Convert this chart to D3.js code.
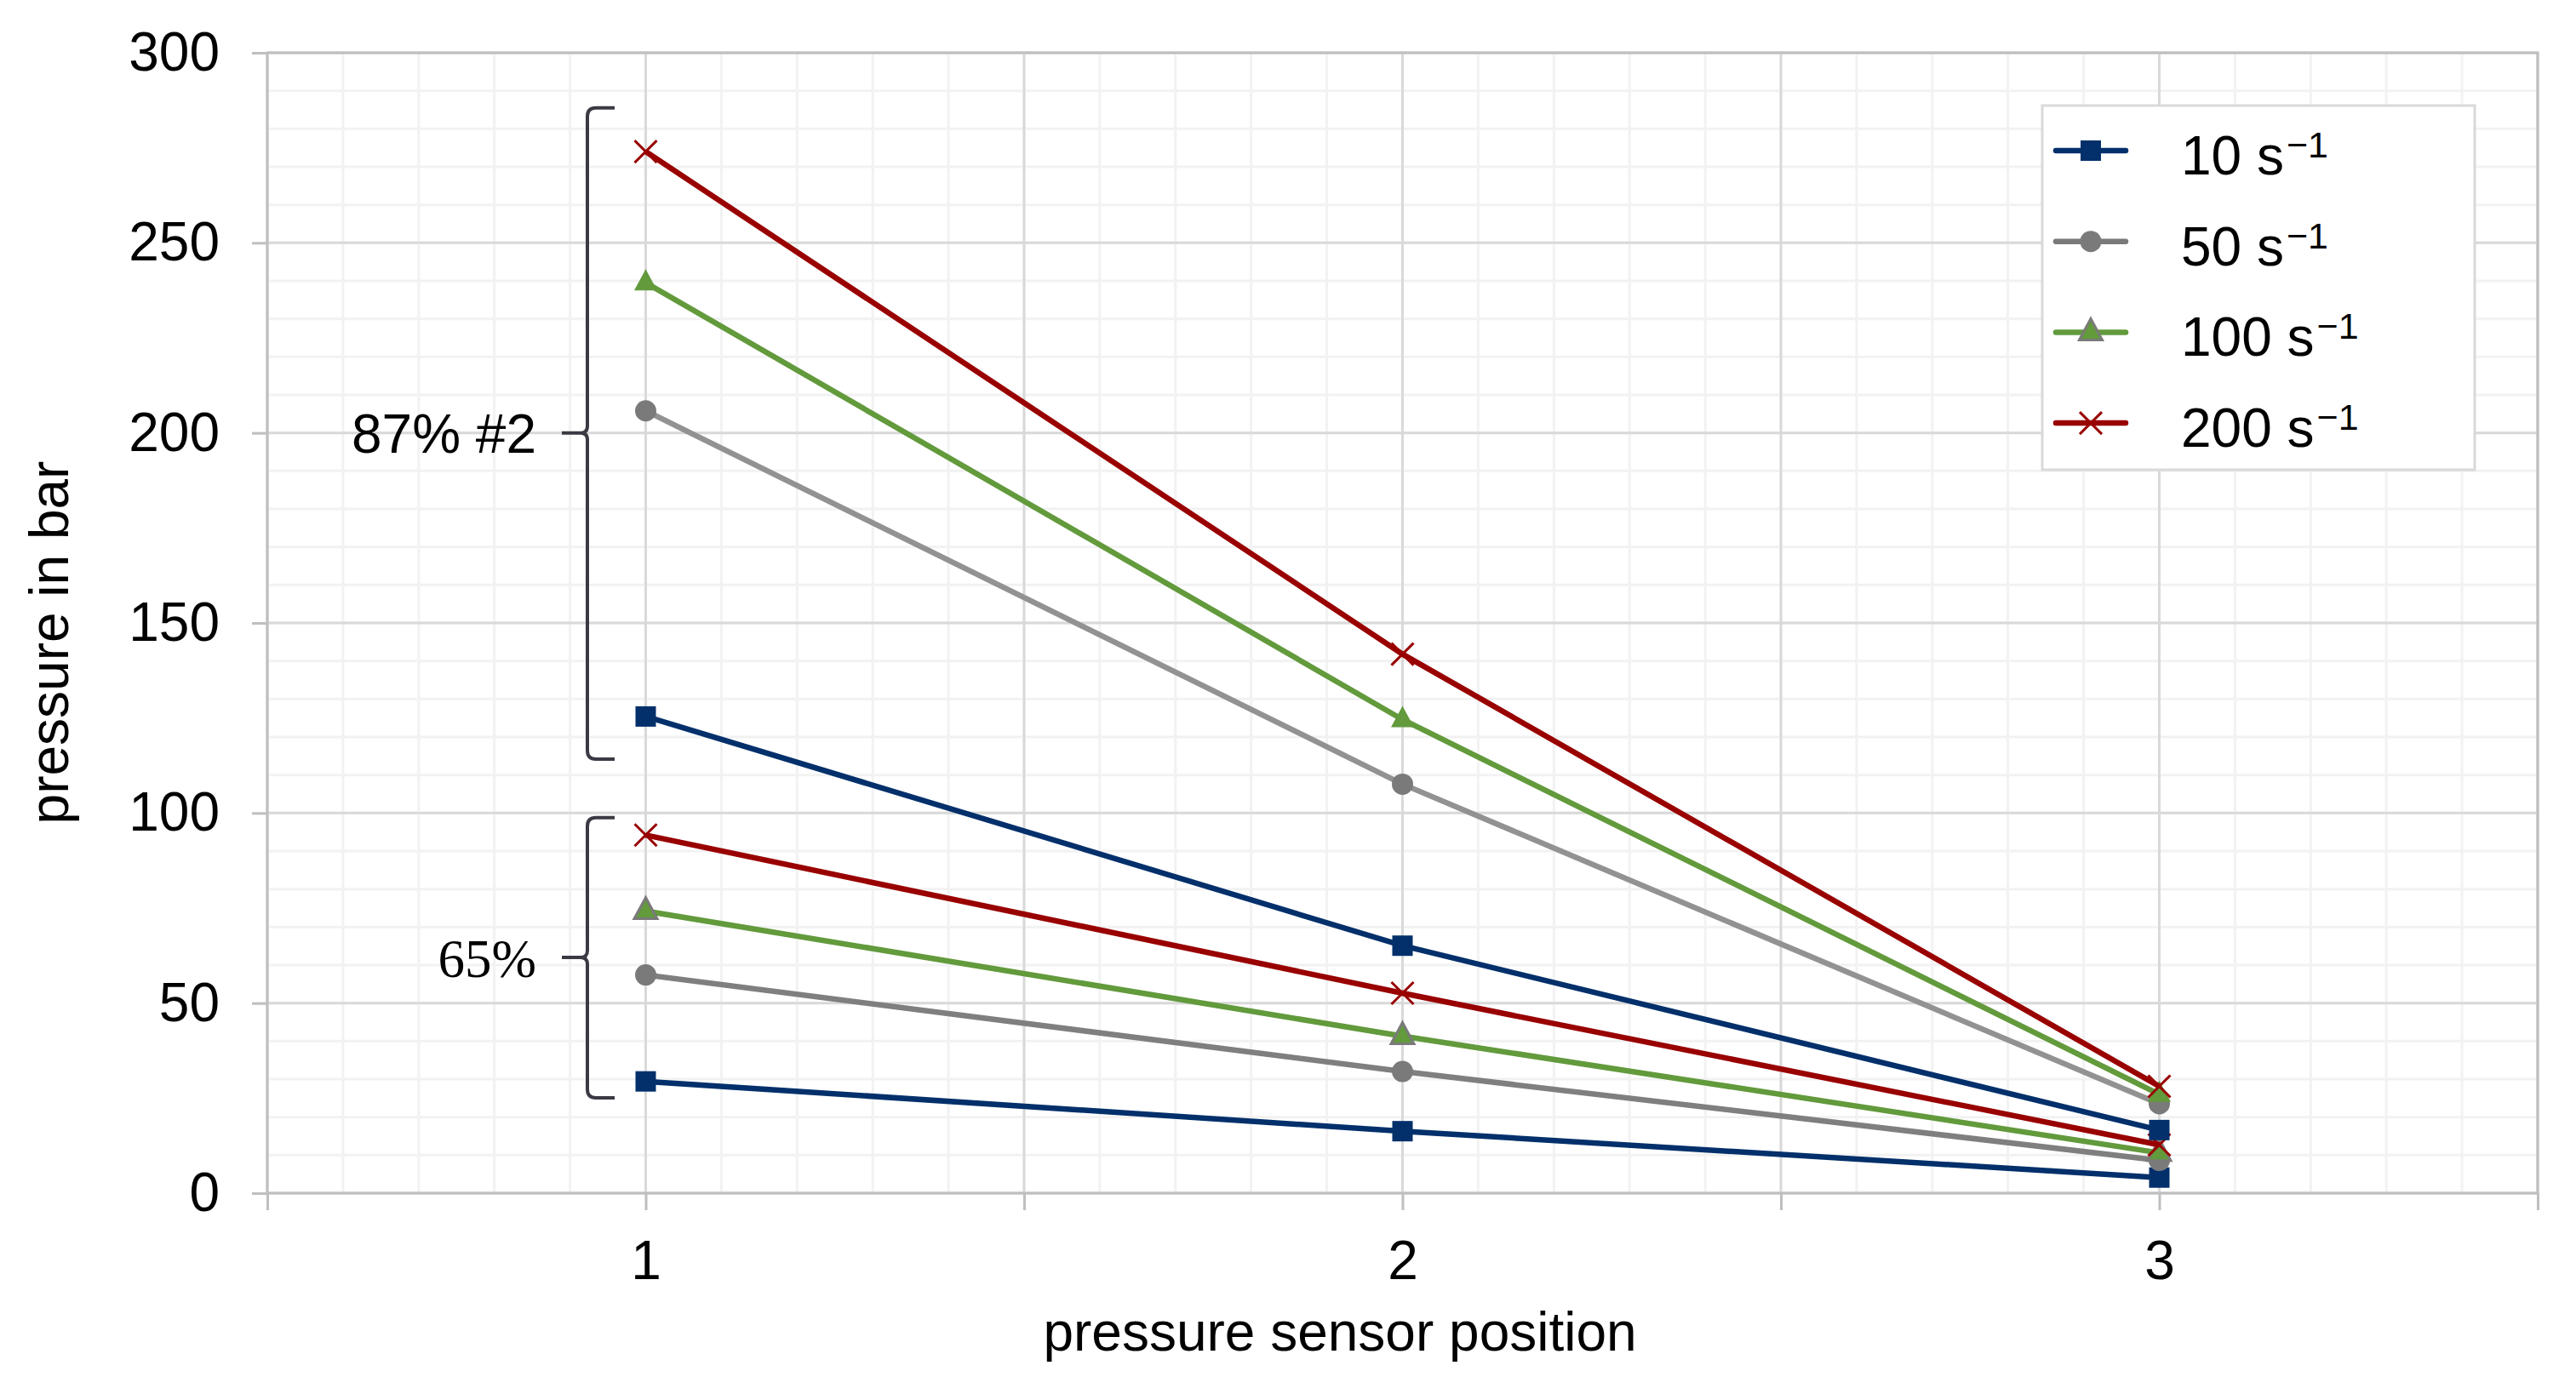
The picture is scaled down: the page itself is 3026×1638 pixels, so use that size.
<!DOCTYPE html>
<html>
<head>
<meta charset="utf-8">
<script src="https://cdn.jsdelivr.net/npm/d3@7"></script>
<style>
  body { margin: 0; background: #fff; }
  text { font-family: "Liberation Sans", Arial, sans-serif; fill: #000; }
</style>
</head>
<body>
<div id="chart-area"></div>
<script>
// canvas and chart sizes
const svgWidth = 3026,
      svgHeight = 1638;
const margin = {left: 314, top: 62, right: 45, bottom: 236};
const chartWidth = svgWidth - margin.left - margin.right,
      chartHeight = svgHeight - margin.top - margin.bottom;

// data
const positions = [1, 2, 3];
const rateLabels = ["10", "50", "100", "200"];
// group "87% #2"
const highP10  = [125.4, 65.1, 16.6];
const highP50  = [205.8, 107.6, 23.5];
const highP100 = [239.5, 124.6, 26.0];
const highP200 = [274.0, 141.8, 28.1];
// group "65%"
const lowP10  = [29.4, 16.3, 4.1];
const lowP50  = [57.4, 32.0, 8.6];
const lowP100 = [74.2, 41.3, 10.6];
const lowP200 = [94.2, 52.6, 12.7];
const yTicks = [0, 50, 100, 150, 200, 250, 300];
const xTicks = [1, 2, 3];

// series styles
const styles = {
  "10":  {color: "#03306b", marker: "square"},
  "50":  {color: "#7a7a7a", marker: "circle"},
  "100": {color: "#629a3c", marker: "triangle"},
  "200": {color: "#990000", marker: "cross"}
};

var svg = d3.select("#chart-area")
    .append("svg")
    .attr("width", svgWidth)
    .attr("height", svgHeight);
var g = svg.append("g")
    .attr("transform", "translate(" + margin.left + "," + margin.top + ")");

// scales
var xScale = d3.scaleLinear().domain([0.5, 3.5]).range([0, chartWidth]);
var yScale = d3.scaleLinear().domain([0, 300]).range([chartHeight, 0]);

// minor grid
g.selectAll(".minor-x")
    .data(d3.range(5, 36).map(function(d){ return d / 10; }))
    .enter().append("line")
    .attr("x1", function(d){ return xScale(d); })
    .attr("x2", function(d){ return xScale(d); })
    .attr("y1", 0).attr("y2", chartHeight)
    .attr("stroke", "#f2f2f2").attr("stroke-width", 3);
g.selectAll(".minor-y")
    .data(d3.range(0, 301, 10))
    .enter().append("line")
    .attr("x1", 0).attr("x2", chartWidth)
    .attr("y1", function(d){ return yScale(d); })
    .attr("y2", function(d){ return yScale(d); })
    .attr("stroke", "#f2f2f2").attr("stroke-width", 3);

// major grid
g.selectAll(".major-x")
    .data(d3.range(0.5, 3.51, 0.5))
    .enter().append("line")
    .attr("x1", function(d){ return xScale(d); })
    .attr("x2", function(d){ return xScale(d); })
    .attr("y1", 0).attr("y2", chartHeight)
    .attr("stroke", "#d9d9d9").attr("stroke-width", 3);
g.selectAll(".major-y")
    .data(yTicks)
    .enter().append("line")
    .attr("x1", 0).attr("x2", chartWidth)
    .attr("y1", function(d){ return yScale(d); })
    .attr("y2", function(d){ return yScale(d); })
    .attr("stroke", "#d9d9d9").attr("stroke-width", 3);

// frame
g.append("rect")
    .attr("width", chartWidth).attr("height", chartHeight)
    .attr("fill", "none").attr("stroke", "#bfbfbf").attr("stroke-width", 3);

// axes
var yAxisCall = d3.axisLeft(yScale).tickValues(yTicks).tickSize(18).tickPadding(38);
var xAxisCall = d3.axisBottom(xScale).tickValues(d3.range(0.5, 3.51, 0.5)).tickSize(20).tickPadding(36)
    .tickFormat(function(d){ return xTicks.indexOf(d) >= 0 ? d : ""; });

var yAxis = g.append("g").call(yAxisCall);
var xAxis = g.append("g").attr("transform", "translate(0," + chartHeight + ")").call(xAxisCall);
[yAxis, xAxis].forEach(function(ax){
  ax.select(".domain").remove();
  ax.selectAll("line").attr("stroke", "#bfbfbf").attr("stroke-width", 3);
  ax.selectAll("text").attr("font-size", "64px").attr("fill", "#000")
    .attr("font-family", "Liberation Sans, Arial, sans-serif");
});

// axis titles
svg.append("text")
    .attr("x", 1574).attr("y", 1587)
    .attr("text-anchor", "middle").attr("font-size", "64px")
    .text("pressure sensor position");
svg.append("text")
    .attr("transform", "translate(80,755) rotate(-90)")
    .attr("text-anchor", "middle").attr("font-size", "64px")
    .text("pressure in bar");

// marker drawing
function drawMarker(sel, type, color, outline) {
  if (type == "square") {
    sel.append("rect").attr("x", -12).attr("y", -12).attr("width", 24).attr("height", 24)
      .attr("fill", color);
  } else if (type == "circle") {
    sel.append("circle").attr("r", 12.5).attr("fill", color);
  } else if (type == "triangle") {
    sel.append("path").attr("d", "M0,-16 L13.5,9 L-13.5,9 Z")
      .attr("fill", color)
      .attr("stroke", outline ? "#7a7a7a" : "none").attr("stroke-width", 3)
      .attr("stroke-linejoin", "miter");
  } else if (type == "cross") {
    sel.append("path").attr("d", "M-13,-13 L13,13 M-13,13 L13,-13")
      .attr("stroke", color).attr("stroke-width", 3).attr("fill", "none");
  }
}

var line = d3.line()
    .x(function(d){ return xScale(d.x); })
    .y(function(d){ return yScale(d.y); });

function drawSeries(values, rate, lineColor, outline) {
  var pts = positions.map(function(p, i){ return {x: p, y: values[i]}; });
  var st = styles[rate];
  g.append("path").datum(pts)
    .attr("d", line)
    .attr("fill", "none")
    .attr("stroke", lineColor || st.color)
    .attr("stroke-width", 6.5);
  pts.forEach(function(p){
    var m = g.append("g").attr("transform", "translate(" + xScale(p.x) + "," + yScale(p.y) + ")");
    drawMarker(m, st.marker, st.color, outline);
  });
}

// lower group first, upper drawn over it
drawSeries(lowP10, "10");
drawSeries(lowP50, "50", "#7f7f7f");
drawSeries(lowP100, "100", null, true);
drawSeries(lowP200, "200");
drawSeries(highP10, "10");
drawSeries(highP50, "50", "#929292");
drawSeries(highP100, "100", null, false);
drawSeries(highP200, "200");

// brackets
function bracket(top, mid, bottom, label, serif) {
  var xv = 690 - margin.left, xr = 722 - margin.left, xl = 660 - margin.left;
  var t = yScale(top), m = yScale(mid), b = yScale(bottom);
  var d = "M" + xr + "," + t + " H" + (xv + 10) + " Q" + xv + "," + t + " " + xv + "," + (t + 10) +
          " V" + (m - 8) + " Q" + xv + "," + m + " " + (xv - 8) + "," + m + " H" + xl +
          " M" + (xv - 8) + "," + m + " Q" + xv + "," + m + " " + xv + "," + (m + 8) +
          " V" + (b - 10) + " Q" + xv + "," + b + " " + (xv + 10) + "," + b + " H" + xr;
  g.append("path").attr("d", d).attr("fill", "none")
    .attr("stroke", "#3a3a44").attr("stroke-width", 4);
  g.append("text")
    .attr("x", 630 - margin.left).attr("y", m).attr("dy", "0.36em")
    .attr("text-anchor", "end")
    .attr("font-size", serif ? "63px" : "64px")
    .style("font-family", serif ? "'Liberation Serif', 'Times New Roman', serif" : null)
    .text(label);
}
bracket(285.5, 200, 114.2, "87% #2", false);
bracket(98.8, 62, 25.1, "65%", true);

// legend
var legend = svg.append("g").attr("transform", "translate(2399,124)");
legend.append("rect")
    .attr("width", 508).attr("height", 428)
    .attr("fill", "#fff").attr("stroke", "#d9d9d9").attr("stroke-width", 3);
rateLabels.forEach(function(rate, i){
  var st = styles[rate];
  var row = legend.append("g").attr("transform", "translate(0," + (53 + i * 106.7) + ")");
  row.append("line").attr("x1", 16).attr("x2", 98)
    .attr("stroke", st.color).attr("stroke-width", 6.5).attr("stroke-linecap", "round");
  var m = row.append("g").attr("transform", "translate(57,0)");
  drawMarker(m, st.marker, st.color, true);
  var txt = row.append("text").attr("x", 163).attr("y", 28).attr("font-size", "64px");
  txt.append("tspan").text(rate + " s");
  txt.append("tspan").attr("dy", -20).attr("dx", 3).attr("font-size", "43px").text("\u22121");
});
</script>
</body>
</html>
